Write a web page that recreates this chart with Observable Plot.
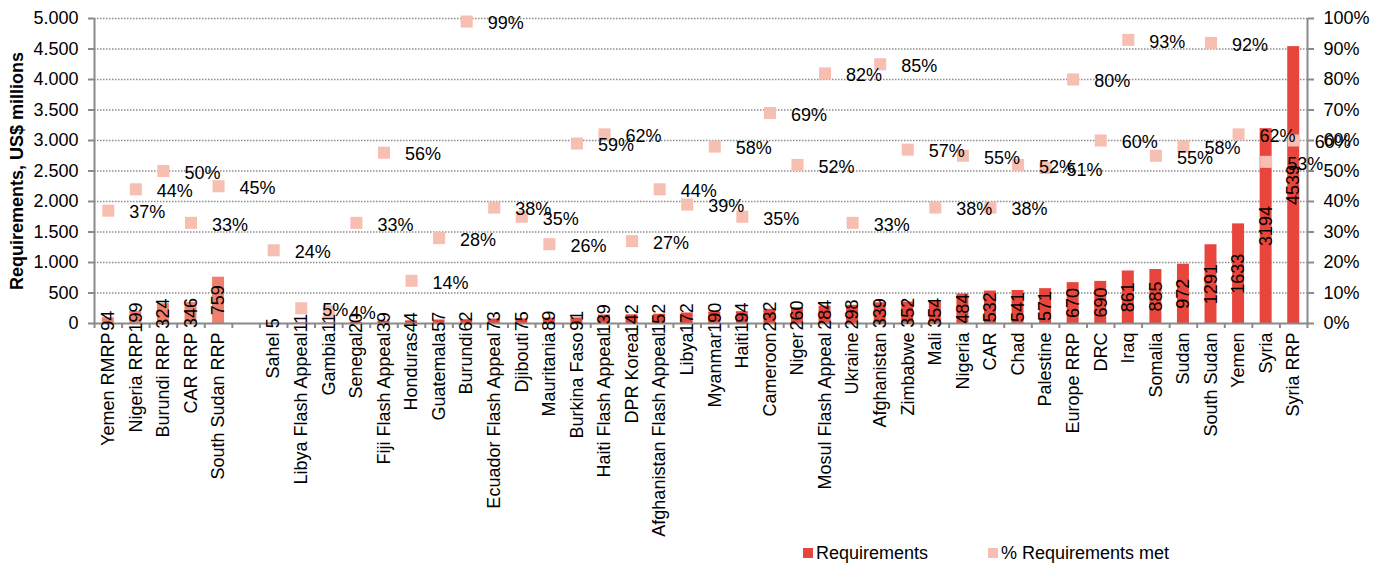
<!DOCTYPE html>
<html><head><meta charset="utf-8">
<script src="https://cdn.jsdelivr.net/npm/d3@7"></script>
<script src="https://cdn.jsdelivr.net/npm/@observablehq/plot@0.6"></script>
<style>
html,body{margin:0;padding:0;background:#fff;}
body{width:1386px;height:565px;position:relative;overflow:hidden;font-family:"Liberation Sans",Arial,sans-serif;}
#legend{position:absolute;left:0;top:541px;width:1386px;height:24px;font-size:18px;color:#000;}
.item{position:absolute;top:0;display:flex;align-items:center;height:24px;white-space:nowrap;}
.sw{width:10px;height:10px;margin-right:3px;}
</style></head>
<body><div id="chart"></div><div id="legend"></div>
<script>
const categories = ["Yemen RMRP","Nigeria RRP","Burundi RRP","CAR RRP","South Sudan RRP","","Sahel","Libya Flash Appeal","Gambia","Senegal","Fiji Flash Appeal","Honduras","Guatemala","Burundi","Ecuador Flash Appeal","Djibouti","Mauritania","Burkina Faso","Haiti Flash Appeal","DPR Korea","Afghanistan Flash Appeal","Libya","Myanmar","Haiti","Cameroon","Niger","Mosul Flash Appeal","Ukraine","Afghanistan","Zimbabwe","Mali","Nigeria","CAR","Chad","Palestine","Europe RRP","DRC","Iraq","Somalia","Sudan","South Sudan","Yemen","Syria","Syria RRP"];
const requirements = [94,199,324,346,759,null,5,11,11,20,39,44,57,62,73,75,89,91,139,142,152,172,190,194,232,260,284,298,339,352,354,484,532,541,571,670,690,861,885,972,1291,1633,3194,4539];
const pctMet = [37,44,50,33,45,null,24,5,4,33,56,14,28,99,38,35,26,59,62,27,44,39,58,35,69,52,82,33,85,57,38,55,38,52,51,80,60,93,55,58,92,62,53,60];
const rrpCount = 5;
const leftTicks = [0,500,1000,1500,2000,2500,3000,3500,4000,4500,5000];
const yTitle = "Requirements, US$ millions";
const seriesNames = ["Requirements", "% Requirements met"];
const colors = {rrp: "#F07F6E", appeal: "#E8453C", met: "#F7BFB2", axis: "#8a8a8a", grid: "#8c8c8c"};

const fmt = d3.formatLocale({decimal: ",", thousands: ".", grouping: [3], currency: ["", ""]}).format(",");
const data = categories.map((c, i) => ({i, cat: c, req: requirements[i], pct: pctMet[i], rrp: i < rrpCount}));
const bars = data.filter(d => d.req != null);
const pts = data.filter(d => d.pct != null);
const n = categories.length;
const pctMax = 100, reqMax = 5000, k = reqMax / pctMax;

const chart = Plot.plot({
  width: 1386, height: 538,
  marginTop: 18, marginBottom: 215, marginLeft: 94, marginRight: 79,
  style: {fontFamily: '"Liberation Sans", Arial, sans-serif', fontSize: "18px", color: "#000", background: "#fff"},
  x: {type: "linear", domain: [0, n], label: null},
  y: {domain: [0, reqMax], label: null},
  marks: [
    Plot.gridY(leftTicks.filter(v => v > 0), {stroke: colors.grid, strokeOpacity: 1, strokeDasharray: "1.5,1.5", strokeWidth: 1.3}),
    Plot.rect(bars.filter(d => d.rrp), {x1: d => d.i, x2: d => d.i + 1, y1: d => 0, y2: "req", fill: colors.rrp, insetLeft: 7.8, insetRight: 7.8}),
    Plot.rect(bars.filter(d => !d.rrp), {x1: d => d.i, x2: d => d.i + 1, y1: d => 0, y2: "req", fill: colors.appeal, insetLeft: 7.8, insetRight: 7.8}),
    Plot.ruleX([0, n], {stroke: colors.axis, strokeWidth: 2}),
    Plot.ruleY([0], {stroke: colors.axis, strokeWidth: 2}),
    Plot.axisY(leftTicks, {anchor: "left", tickFormat: fmt, tickSize: 6, tickPadding: 10, stroke: colors.axis, strokeWidth: 2, label: null}),
    Plot.axisY(leftTicks, {anchor: "right", tickFormat: d => Math.round(d / k) + "%", tickSize: 6, tickPadding: 10, stroke: colors.axis, strokeWidth: 2, label: null}),
    Plot.axisX(d3.range(0, n + 1), {anchor: "bottom", tickSize: 5, tickFormat: () => "", stroke: colors.axis, strokeWidth: 2, label: null}),
    Plot.axisX(d3.range(n).map(i => i + 0.5), {anchor: "bottom", tickSize: 0, tickPadding: 9, tickRotate: -90, tickFormat: v => categories[Math.floor(v)], label: null}),
    Plot.dot(pts, {x: d => d.i + 0.5, y: d => d.pct * k, symbol: "square", r: 6.8, fill: colors.met}),
    Plot.text(bars, {x: d => d.i + 0.5, y: d => d.req / 2, text: d => String(d.req), rotate: -90, fontSize: 18, fill: "#000"}),
    Plot.text(pts, {x: d => d.i + 0.5, y: d => d.pct * k, text: d => d.pct + "%", textAnchor: "start", dx: 21, dy: 2, fontSize: 18, fill: "#000"}),
    Plot.text([yTitle], {frameAnchor: "left", textAnchor: "middle", rotate: -90, dx: -77, fontWeight: "bold", fontSize: 18, fill: "#000"})
  ]
});
document.getElementById("chart").appendChild(chart);

const legend = document.getElementById("legend");
const legendItems = [{name: seriesNames[0], color: colors.appeal, left: 803}, {name: seriesNames[1], color: colors.met, left: 988}];
for (const it of legendItems) {
  const div = document.createElement("div");
  div.className = "item";
  div.style.left = it.left + "px";
  const sw = document.createElement("span");
  sw.className = "sw";
  sw.style.background = it.color;
  const t = document.createElement("span");
  t.textContent = it.name;
  div.appendChild(sw); div.appendChild(t);
  legend.appendChild(div);
}
</script>
</body></html>
